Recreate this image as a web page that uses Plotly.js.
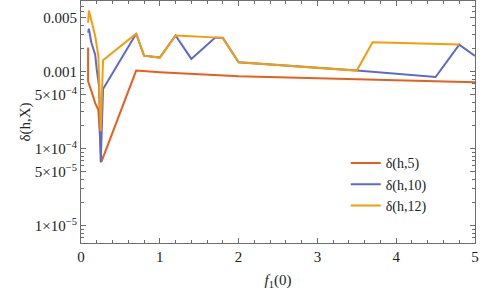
<!DOCTYPE html>
<html>
<head>
<meta charset="utf-8">
<script src="https://cdn.plot.ly/plotly-3.0.1.min.js"></script>
<style>
  html, body { margin: 0; padding: 0; background: #fff; }
  #chart { width: 480px; height: 293px; }
</style>
</head>
<body>
<div id="chart"></div>
<script>
// values
const xH5 = [0.09, 0.09, 0.14, 0.18, 0.22, 0.26, 0.7, 1.0, 2.0, 3.5, 4.5, 5.0];
const yH5 = [0.00205, 0.00075, 0.00053, 0.00039, 0.00032, 0.000068, 0.00103, 0.00098, 0.00087, 0.00079, 0.00075, 0.00073];

const xH10 = [0.09, 0.1, 0.13, 0.18, 0.2, 0.23, 0.25, 0.28, 0.7, 0.8, 1.0, 1.2, 1.4, 1.7, 1.8, 2.0, 3.5, 4.5, 4.8, 5.0];
const yH10 = [0.0032, 0.0036, 0.0024, 0.00166, 0.00106, 0.00064, 0.000066, 0.000596, 0.0031, 0.00161, 0.00152, 0.00294, 0.00146, 0.00274, 0.00274, 0.00132, 0.00103, 0.00085, 0.00224, 0.0016];

const xH12 = [0.09, 0.1, 0.13, 0.18, 0.22, 0.24, 0.25, 0.28, 0.7, 0.8, 1.0, 1.2, 1.8, 2.0, 3.5, 3.7, 4.8];
const yH12 = [0.0043, 0.0062, 0.0047, 0.0029, 0.0016, 0.00032, 0.000168, 0.0014, 0.0031, 0.00161, 0.00152, 0.00294, 0.00274, 0.00132, 0.00103, 0.0024, 0.00224];

const seriesNames = ['δ(h,5)', 'δ(h,10)', 'δ(h,12)'];
const seriesColors = ['#E5601C', '#5B6ACB', '#F29E0C'];

const yTickVals = [1e-5, 5e-5, 1e-4, 5e-4, 1e-3, 5e-3];
const yTickText = ['1×10<sup>−5</sup>', '5×10<sup>−5</sup>', '1×10<sup>−4</sup>', '5×10<sup>−4</sup>', '0.001', '0.005'];

// minor ticks at every 1..9 multiple of each decade
const yMinorVals = [];
for (let e = -6; e <= -2; e++) {
  for (let m = 1; m <= 9; m++) {
    yMinorVals.push(m * Math.pow(10, e));
  }
}

const xs = [xH5, xH10, xH12];
const ys = [yH5, yH10, yH12];
const data = [];
for (let i = 0; i < 3; i++) {
  data.push({
    x: xs[i],
    y: ys[i],
    mode: 'lines',
    name: seriesNames[i],
    line: { color: seriesColors[i], width: 2 }
  });
}

const frameColor = '#6e6e6e';
function mkFont(size) {
  return { family: 'Liberation Serif', size: size, color: '#222' };
}

const layout = {
  width: 480,
  height: 293,
  margin: { l: 81, r: 5, t: 1, b: 50 },
  paper_bgcolor: '#fff',
  plot_bgcolor: '#fff',
  font: mkFont(15),
  showlegend: true,
  legend: {
    x: 0.672, y: 0.395, xanchor: 'left', yanchor: 'top',
    bgcolor: 'rgba(0,0,0,0)',
    font: mkFont(14),
    itemwidth: 30,
    tracegroupgap: 0
  },
  xaxis: {
    range: [0, 5],
    showgrid: false,
    zeroline: false,
    showline: true,
    linecolor: frameColor,
    linewidth: 1,
    mirror: 'ticks',
    ticks: 'inside',
    ticklen: 5,
    tickcolor: frameColor,
    tickfont: mkFont(15),
    tickvals: [0, 1, 2, 3, 4, 5],
    ticktext: ['0', '1', '2', '3', '4', '5'],
    minor: { dtick: 0.2, ticks: 'inside', ticklen: 3, tickcolor: frameColor, showgrid: false },
    title: { text: '<i>f</i><sub>1</sub>(0)', font: mkFont(15), standoff: 10 }
  },
  yaxis: {
    type: 'log',
    range: [-5.224, -2.084],
    showgrid: false,
    zeroline: false,
    showline: true,
    linecolor: frameColor,
    linewidth: 1,
    mirror: 'ticks',
    ticks: 'inside',
    ticklen: 5,
    tickcolor: frameColor,
    tickfont: mkFont(15),
    tickvals: yTickVals,
    ticktext: yTickText,
    minor: { tickvals: yMinorVals, ticks: 'inside', ticklen: 3, tickcolor: frameColor, showgrid: false },
    title: { text: 'δ(h,X)', font: mkFont(15), standoff: 0 }
  }
};

Plotly.newPlot('chart', data, layout, { displayModeBar: false, staticPlot: true });
</script>
</body>
</html>
